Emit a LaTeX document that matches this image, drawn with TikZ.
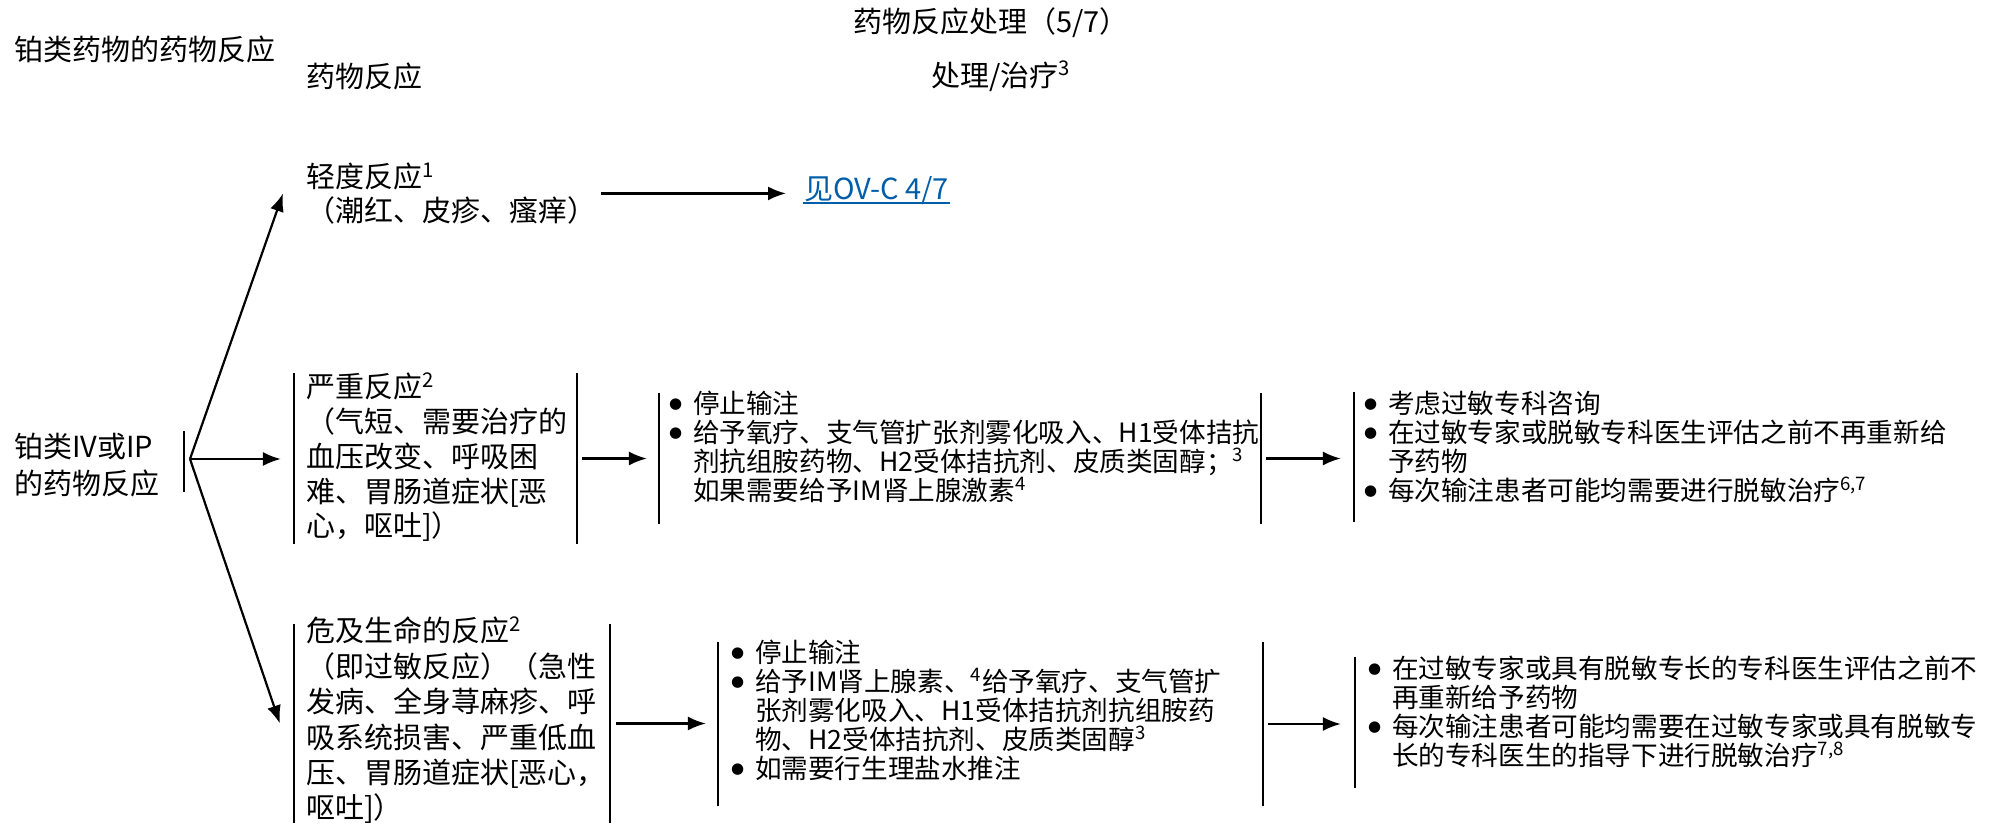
\documentclass[tikz,border=0pt]{standalone}
\usepackage{fontspec}
\setmainfont{Noto Sans CJK SC}
\newfontfamily\dejavu{DejaVu Sans}
\usetikzlibrary{arrows.meta,fit}
\definecolor{linkblue}{RGB}{0,94,168}
\newcommand{\bl}{\makebox[12pt][l]{\raisebox{2.4pt}{\dejavu\fontsize{7.5}{7.5}\selectfont ●}}}
\newcommand{\ind}{\hspace*{12pt}}
\newcommand{\sps}[1]{\textsuperscript{#1}}
\begin{document}
\begin{tikzpicture}[x=0.5pt,y=-0.5pt,line width=1.1pt,
  hd/.style={inner sep=0pt,anchor=west,font=\fontsize{14.5}{17.5}\selectfont},
  blk/.style={inner sep=0pt,anchor=north west,align=left},
  bigf/.style={font=\fontsize{14.5}{#1}\selectfont},
  tf/.style={font=\fontsize{13.3}{14.5}\selectfont},
  frame/.style={inner sep=0pt},
  arr/.style={-{Latex[length=9pt,width=7pt]}}]
\useasboundingbox (0,0) rectangle (1997,825);

% headings
\node[hd,anchor=center] (title) at (991,23) {药物反应处理（5/7）};
\node[hd] (h1) at (13,49) {铂类药物的药物反应};
\node[hd] (h2) at (305,76) {药物反应};
\node[hd] (h3) at (930,76) {处理/治疗\sps{3}};

% mild reaction
\node[blk,bigf=17] (mild) at (305,161.5) {轻度反应\sps{1}\\（潮红、皮疹、瘙痒）};
\node[hd,text=linkblue] (link) at (803,191) {见OV-C 4/7};
\draw[linkblue,line width=0.8pt] ([yshift=-1.6pt]link.base west) -- ([yshift=-1.6pt]link.base east);
\draw[arr,shorten <=2pt,shorten >=8.5pt] (mild.east) -- (mild.east -| link.west);

% source
\node[blk,bigf=18.5] (src) at (13,431.5) {铂类IV或IP\\的药物反应};
\coordinate (bt) at (184,431);
\coordinate (bb) at (184,492);
\draw (bt) -- (bb);
\coordinate (fork) at (190,459);

% severe
\node[frame,fit={(295,374) (576,543)}] (sevbox) {};
\draw (sevbox.north west) -- (sevbox.south west) (sevbox.north east) -- (sevbox.south east);
\node[blk,bigf=17.4] (sev) at (305,371.5) {严重反应\sps{2}\\（气短、需要治疗的\\血压改变、呼吸困\\难、胃肠道症状[恶\\心，呕吐]）};

\node[frame,fit={(660,394) (1260,523)}] (trt2) {};
\draw (trt2.north west) -- (trt2.south west) (trt2.north east) -- (trt2.south east);
\node[blk,tf] (trt2t) at (668,390) {\bl 停止输注\\\bl 给予氧疗、支气管扩张剂雾化吸入、H1受体拮抗\\\ind 剂抗组胺药物、H2受体拮抗剂、皮质类固醇；\sps{3}\\\ind 如果需要给予IM肾上腺激素\sps{4}};

\node[frame,fit={(1354,393) (1354,521)}] (rec2) {};
\draw (rec2.north) -- (rec2.south);
\node[blk,tf] (rec2t) at (1363,390) {\bl 考虑过敏专科咨询\\\bl 在过敏专家或脱敏专科医生评估之前不再重新给\\\ind 予药物\\\bl 每次输注患者可能均需要进行脱敏治疗\sps{6,7}};

% life threatening
\node[frame,fit={(295,625) (609,822)}] (dngbox) {};
\draw (dngbox.north west) -- (dngbox.south west) (dngbox.north east) -- (dngbox.south east);
\node[blk,bigf=17.7] (dng) at (305,615.5) {危及生命的反应\sps{2}\\（即过敏反应）（急性\\发病、全身荨麻疹、呼\\吸系统损害、严重低血\\压、胃肠道症状[恶心，\\呕吐]）};

\node[frame,fit={(719,643) (1262,805)}] (trt3) {};
\draw (trt3.north west) -- (trt3.south west) (trt3.north east) -- (trt3.south east);
\node[blk,tf] (trt3t) at (730,639) {\bl 停止输注\\\bl 给予IM肾上腺素、\sps{4}给予氧疗、支气管扩\\\ind 张剂雾化吸入、H1受体拮抗剂抗组胺药\\\ind 物、H2受体拮抗剂、皮质类固醇\sps{3}\\\bl 如需要行生理盐水推注};

\node[frame,fit={(1355,658) (1355,787)}] (rec3) {};
\draw (rec3.north) -- (rec3.south);
\node[blk,tf] (rec3t) at (1367,655) {\bl 在过敏专家或具有脱敏专长的专科医生评估之前不\\\ind 再重新给予药物\\\bl 每次输注患者可能均需要在过敏专家或具有脱敏专\\\ind 长的专科医生的指导下进行脱敏治疗\sps{7,8}};

% connectors
\draw[arr] (fork) -- ([xshift=-11pt]mild.west);
\draw[arr,shorten >=6.5pt] (fork) -- (fork -| sevbox.west);
\draw[arr] (fork) -- ([xshift=-7pt]dngbox.west);
\draw[arr,shorten <=2.5pt,shorten >=6pt] (sevbox.east) -- (sevbox.east -| trt2.west);
\draw[arr,shorten <=2.5pt,shorten >=5.5pt] (trt2.east) -- (trt2.east -| rec2.west);
\draw[arr,shorten <=3pt,shorten >=6pt] (dngbox.east) -- (dngbox.east -| trt3.west);
\draw[arr,shorten <=2.5pt,shorten >=6pt] (trt3.east) -- (trt3.east -| rec3.west);
\end{tikzpicture}
\end{document}
